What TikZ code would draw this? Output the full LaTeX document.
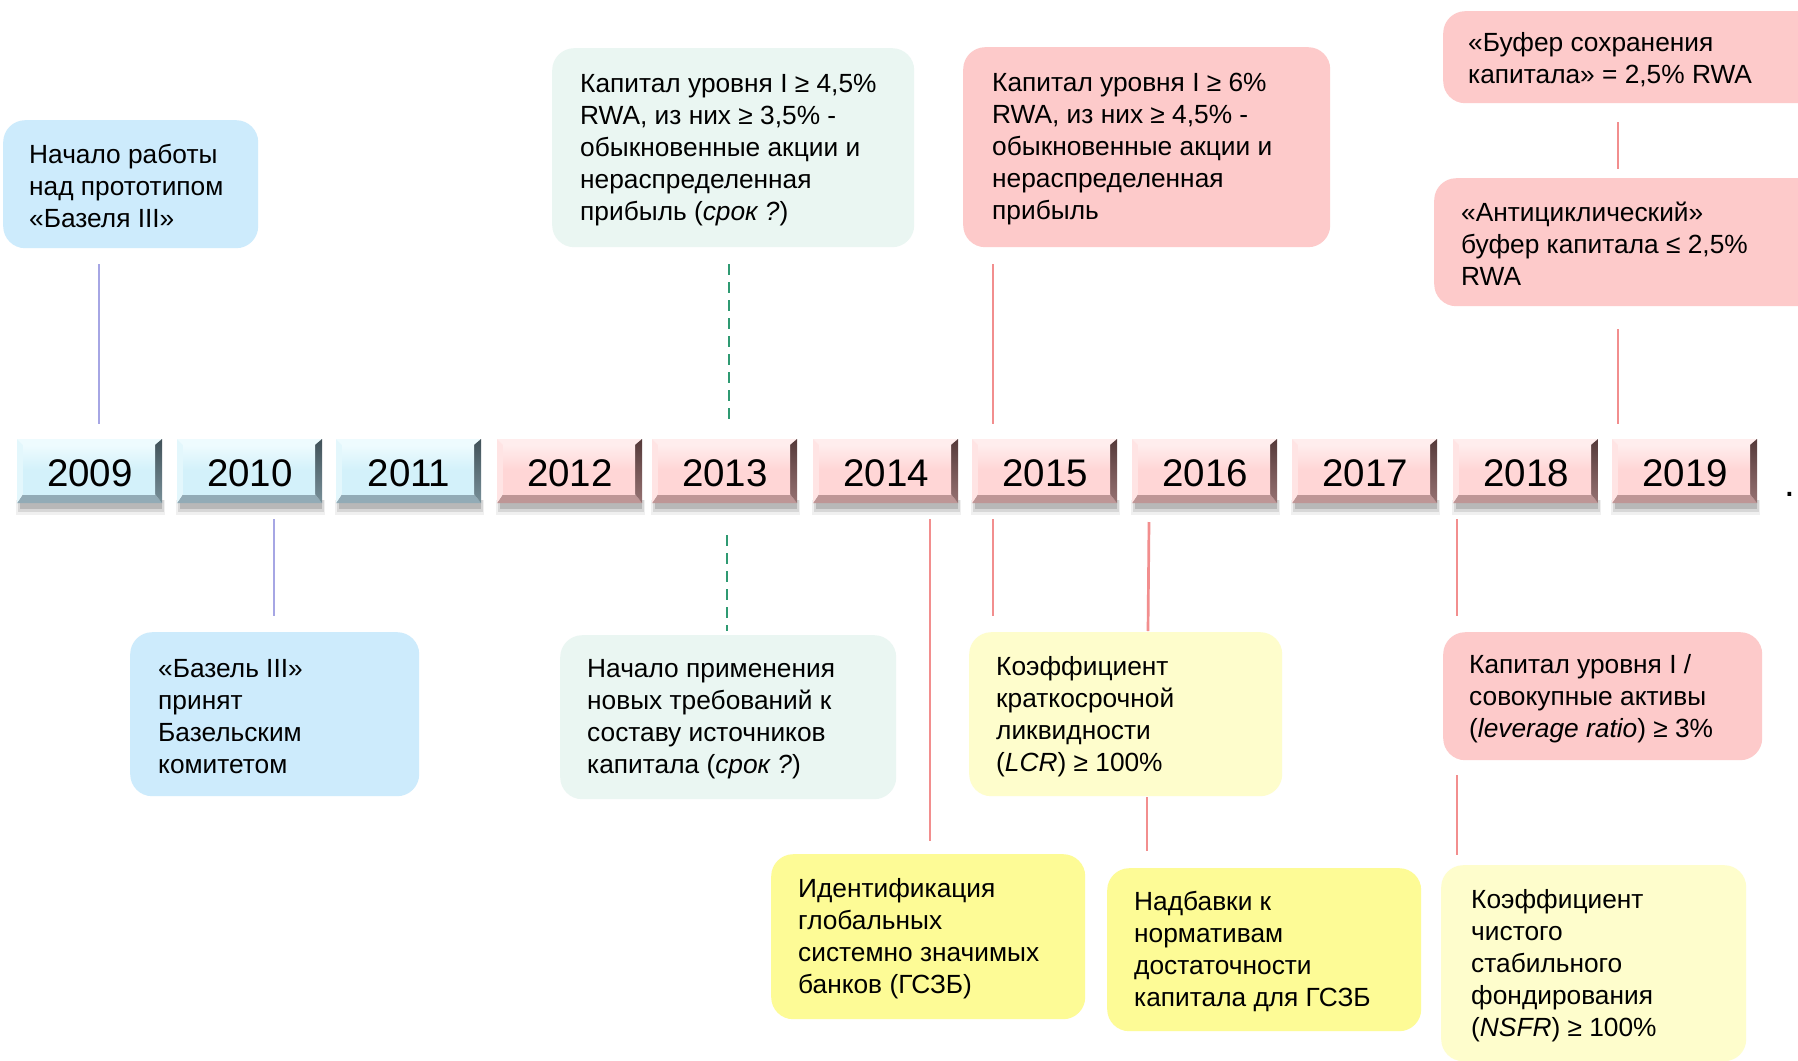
\documentclass[tikz,border=0pt]{standalone}
\usepackage{fontspec}
\setmainfont{Liberation Sans}
\usetikzlibrary{calc}

\definecolor{bxblue}{HTML}{CDEBFC}
\definecolor{bxmint}{HTML}{EAF6F2}
\definecolor{bxpink}{HTML}{FDCACA}
\definecolor{bxlyel}{HTML}{FEFDCC}
\definecolor{bxyel}{HTML}{FDFB96}
\definecolor{lnlav}{HTML}{A6A6E4}
\definecolor{lngreen}{HTML}{2F9A72}
\definecolor{lnred}{HTML}{F28E8E}
% year boxes
\definecolor{fb}{HTML}{D3F1FA}
\definecolor{hb}{HTML}{EEFBFE}
\definecolor{db}{HTML}{51666F}
\definecolor{bb}{HTML}{92ABB6}
\definecolor{fp}{HTML}{FFD6D6}
\definecolor{hp}{HTML}{FFEDED}
\definecolor{dp}{HTML}{6A4848}
\definecolor{bp}{HTML}{BE9696}

\tikzset{
  infobox/.style={rounded corners=22pt, draw=none, anchor=north west, inner sep=0pt},
  infotext/.style={anchor=west, align=left, inner sep=0pt, font=\fontsize{26.3}{32}\selectfont},
  yeartext/.style={inner sep=0pt, font=\fontsize{38.5}{40}\selectfont},
  lavline/.style={draw=lnlav, line width=2.7pt},
  redline/.style={draw=lnred, line width=2.7pt},
  greenline/.style={draw=lngreen, line width=2.5pt, dash pattern=on 11pt off 7pt},
}

\newcommand\yrbox[6]{%
  \fill[black,opacity=.06] (#2-1,500) rectangle (#2+148,515);
  \fill[black,opacity=.10] (#2+1,500) rectangle (#2+147,512);
  \fill[black,opacity=.14] (#2+3,500) rectangle (#2+145,509);
  \fill[#6] (#2,503) -- (#2+145,503) -- (#2+138,494) -- (#2+6,494) -- cycle;
  \fill[#4] (#2,439) -- (#2+145,439) -- (#2+138,445) -- (#2+6,445) -- cycle;
  \fill[#4!60!#3] (#2,439) -- (#2+6,445) -- (#2+6,494) -- (#2,503) -- cycle;
  \shade[top color=#5!80!black, bottom color=#5!70!#3] (#2+145,439) -- (#2+145,503) -- (#2+138,494) -- (#2+138,445) -- cycle;
  \shade[top color=#4, bottom color=#3, middle color=#3] (#2+6,445) rectangle (#2+138,494);
  \node[yeartext] (y#1) at (#2+73,473) {#1};
}

\begin{document}
\begin{tikzpicture}[x=1pt,y=-1pt]
\useasboundingbox (0,0) rectangle (1798,1060);
\fill[white] (0,0) rectangle (1798,1060);

% ---------- connectors ----------
\coordinate (l1a) at (99,264);   \coordinate (l1b) at (99,424);
\coordinate (l2a) at (274,519);  \coordinate (l2b) at (274,616);
\coordinate (g1a) at (729,264);  \coordinate (g1b) at (729,424);
\coordinate (g2a) at (727,535);  \coordinate (g2b) at (727,631);
\coordinate (r1a) at (993,264);  \coordinate (r1b) at (993,424);
\coordinate (r2a) at (930,519);  \coordinate (r2b) at (930,841);
\coordinate (r3a) at (993,519);  \coordinate (r3b) at (993,616);
\coordinate (r4a) at (1149,522); \coordinate (r4b) at (1148,631);
\coordinate (r5a) at (1147,797); \coordinate (r5b) at (1147,851);
\coordinate (r6a) at (1618,122); \coordinate (r6b) at (1618,169);
\coordinate (r7a) at (1618,329); \coordinate (r7b) at (1618,424);
\coordinate (r8a) at (1457,519); \coordinate (r8b) at (1457,616);
\coordinate (r9a) at (1457,775); \coordinate (r9b) at (1457,855);

\draw[lavline] (l1a) -- (l1b);
\draw[lavline] (l2a) -- (l2b);
\draw[greenline] (g1a) -- (g1b);
\draw[greenline] (g2a) -- (g2b);
\draw[redline] (r1a) -- (r1b);
\draw[redline] (r2a) -- (r2b);
\draw[redline] (r3a) -- (r3b);
\draw[redline] (r4a) -- (r4b);
\draw[redline] (r5a) -- (r5b);
\draw[redline] (r6a) -- (r6b);
\draw[redline] (r7a) -- (r7b);
\draw[redline] (r8a) -- (r8b);
\draw[redline] (r9a) -- (r9b);

% ---------- year boxes ----------
\yrbox{2009}{17}{fb}{hb}{db}{bb}
\yrbox{2010}{177}{fb}{hb}{db}{bb}
\yrbox{2011}{336}{fb}{hb}{db}{bb}
\yrbox{2012}{497}{fp}{hp}{dp}{bp}
\yrbox{2013}{652}{fp}{hp}{dp}{bp}
\yrbox{2014}{813}{fp}{hp}{dp}{bp}
\yrbox{2015}{972}{fp}{hp}{dp}{bp}
\yrbox{2016}{1132}{fp}{hp}{dp}{bp}
\yrbox{2017}{1292}{fp}{hp}{dp}{bp}
\yrbox{2018}{1453}{fp}{hp}{dp}{bp}
\yrbox{2019}{1612}{fp}{hp}{dp}{bp}
\node[yeartext, anchor=base west] (dot) at (1784,496) {.};

% ---------- info boxes ----------
\node[infobox, fill=bxblue, minimum width=255pt, minimum height=128pt] (b1) at (3,120) {};
\node[infotext] (t1) at ([xshift=26pt,yshift=-2pt]b1.west) {Начало работы\\над прототипом\\«Базеля III»};

\node[infobox, fill=bxmint, minimum width=362pt, minimum height=199pt] (b2) at (552,48) {};
\node[infotext] (t2) at ([xshift=28pt,yshift=-2pt]b2.west) {Капитал уровня I ≥ 4,5\%\\RWA, из них ≥ 3,5\% -\\обыкновенные акции и\\нераспределенная\\прибыль (\textit{срок ?})};

\node[infobox, fill=bxpink, minimum width=367pt, minimum height=200pt] (b3) at (963,47) {};
\node[infotext] (t3) at ([xshift=29pt,yshift=-2pt]b3.west) {Капитал уровня I ≥ 6\%\\RWA, из них ≥ 4,5\% -\\обыкновенные акции и\\нераспределенная\\прибыль};

\node[infobox, fill=bxpink, minimum width=380pt, minimum height=92pt] (b4) at (1443,11) {};
\node[infotext] (t4) at ([xshift=25pt,yshift=-2pt]b4.west) {«Буфер сохранения\\капитала» = 2,5\% RWA};

\node[infobox, fill=bxpink, minimum width=390pt, minimum height=128pt] (b5) at (1434,178) {};
\node[infotext] (t5) at ([xshift=27pt,yshift=-2pt]b5.west) {«Антициклический»\\буфер капитала ≤ 2,5\%\\RWA};

\node[infobox, fill=bxblue, minimum width=289pt, minimum height=164pt] (b6) at (130,632) {};
\node[infotext] (t6) at ([xshift=28pt,yshift=-2pt]b6.west) {«Базель III»\\принят\\Базельским\\комитетом};

\node[infobox, fill=bxmint, minimum width=336pt, minimum height=164pt] (b7) at (560,635) {};
\node[infotext] (t7) at ([xshift=27pt,yshift=-2pt]b7.west) {Начало применения\\новых требований к\\составу источников\\капитала (\textit{срок ?})};

\node[infobox, fill=bxlyel, minimum width=313pt, minimum height=164pt] (b8) at (969,632) {};
\node[infotext] (t8) at ([xshift=27pt,yshift=-2pt]b8.west) {Коэффициент\\краткосрочной\\ликвидности\\(\textit{LCR}) ≥ 100\%};

\node[infobox, fill=bxyel, minimum width=314pt, minimum height=165pt] (b9) at (771,854) {};
\node[infotext] (t9) at ([xshift=27pt,yshift=-2pt]b9.west) {Идентификация\\глобальных\\системно значимых\\банков (ГСЗБ)};

\node[infobox, fill=bxyel, minimum width=314pt, minimum height=163pt] (b10) at (1107,868) {};
\node[infotext] (t10) at ([xshift=27pt,yshift=-2pt]b10.west) {Надбавки к\\нормативам\\достаточности\\капитала для ГСЗБ};

\node[infobox, fill=bxpink, minimum width=319pt, minimum height=128pt] (b11) at (1443,632) {};
\node[infotext] (t11) at ([xshift=26pt,yshift=-2pt]b11.west) {Капитал уровня I /\\совокупные активы\\(\textit{leverage ratio}) ≥ 3\%};

\node[infobox, fill=bxlyel, minimum width=305pt, minimum height=196pt] (b12) at (1441,865) {};
\node[infotext] (t12) at ([xshift=30pt,yshift=-2pt]b12.west) {Коэффициент\\чистого\\стабильного\\фондирования\\(\textit{NSFR}) ≥ 100\%};
\end{tikzpicture}
\end{document}
